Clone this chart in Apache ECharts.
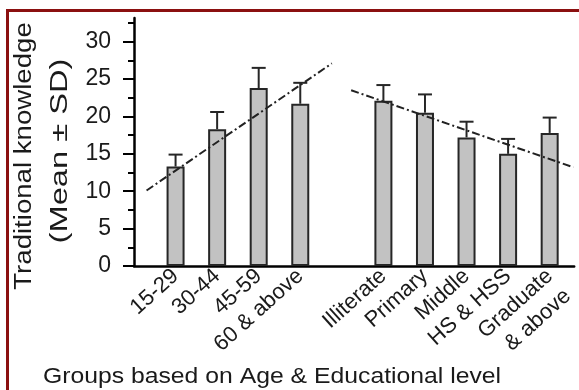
<!DOCTYPE html>
<html>
<head>
<meta charset="utf-8">
<script src="https://cdn.jsdelivr.net/npm/echarts@6/dist/echarts.min.js"></script>
<style>
html,body{margin:0;padding:0;background:#fff;}
#chart{width:579px;height:390px;}
</style>
</head>
<body>
<div id="chart"></div>
<script>
// ---- data ----
var ageGroups = ['15-29', '30-44', '45-59', '60 & above'];
var ageMean   = [13.3, 18.3, 23.8, 21.7];
var ageSD     = [1.6, 2.3, 2.7, 2.8];

var eduGroups = ['Illiterate', 'Primary', 'Middle', 'HS & HSS', 'Graduate\n& above'];
var eduMean   = [22.1, 20.5, 17.2, 15.0, 17.8];
var eduSD     = [2.1, 2.45, 2.1, 2.0, 2.05];

// dash-dot trend lines (x in category units, y in value units)
var ageTrendX = [0.3, 4.72];
var ageTrendY = [10.1, 27.1];
var eduTrendX = [5.18, 10.48];
var eduTrendY = [23.5, 13.2];

var yTicks = [0, 5, 10, 15, 20, 25, 30];

var yTitle1 = 'Traditional knowledge';
var yTitle2 = '(Mean \u00B1 SD)';
var xTitle = 'Groups based on Age & Educational level';

// ---- build ----
var categories = [''].concat(ageGroups, [''], eduGroups);
var means = [null].concat(ageMean, [null], eduMean);
var sds = [null].concat(ageSD, [null], eduSD);
var errData = [];
for (var i = 0; i < categories.length; i++) {
  if (means[i] != null) errData.push([i, means[i], means[i] + sds[i]]);
}

var FONT = 'Liberation Sans, Arial, sans-serif';
var INK = '#1a1a1a';
var pxPerUnit = 224.3 / 30;
var y0 = 266;
var left = 134;
var slot = 41.92;

var chart = echarts.init(document.getElementById('chart'), null, {renderer: 'canvas'});
chart.setOption({
  backgroundColor: '#ffffff',
  animation: false,
  grid: [
    {left: left, right: 579 - (left + 10 * slot), top: y0 - 30 * pxPerUnit, height: 30 * pxPerUnit},
    {left: left, right: 579 - (left + 10 * slot), top: y0 - 32.5 * pxPerUnit, height: 32.5 * pxPerUnit},
    {left: left, right: 579 - (left + 10.5 * slot), top: 18, height: y0 - 18}
  ],
  xAxis: [
    {gridIndex: 0, type: 'value', show: false, min: 0, max: 10},
    {gridIndex: 1, type: 'category', data: categories, boundaryGap: false,
     axisLine: {show: false}, axisTick: {show: false},
     axisLabel: {interval: 0, rotate: 42, margin: 7, fontSize: 22, fontFamily: FONT, color: INK, lineHeight: 27,
       formatter: function (v) { return v.indexOf('\n') >= 0 ? ' \n' + v : v; }}},
    {gridIndex: 2, type: 'value', min: 0, max: 10.5,
     axisLine: {show: true, lineStyle: {color: '#000', width: 2.5}},
     axisTick: {show: false}, axisLabel: {show: false}, splitLine: {show: false}}
  ],
  yAxis: [
    {gridIndex: 0, type: 'value', min: yTicks[0], max: yTicks[yTicks.length - 1], interval: 5,
     axisLine: {show: false},
     axisTick: {show: true, length: 11, lineStyle: {color: '#000', width: 2}},
     axisLabel: {margin: 23, fontSize: 23, fontFamily: FONT, color: INK},
     splitLine: {show: false}},
    {gridIndex: 1, type: 'value', min: 0, max: 32.5, interval: 2.5,
     axisLine: {show: false},
     axisTick: {show: true, length: 6, lineStyle: {color: '#000', width: 2}},
     axisLabel: {show: false}, splitLine: {show: false}},
    {gridIndex: 2, type: 'value', min: 0, max: (y0 - 18) / pxPerUnit,
     axisLine: {show: true, lineStyle: {color: '#000', width: 2.5}},
     axisTick: {show: false}, axisLabel: {show: false}, splitLine: {show: false}}
  ],
  series: [
    {type: 'bar', xAxisIndex: 1, yAxisIndex: 1, data: means, barWidth: 18,
     itemStyle: {color: '#c2c2c2', borderColor: '#262626', borderWidth: 2}, z: 2},
    {type: 'custom', xAxisIndex: 1, yAxisIndex: 1, data: errData,
     encode: {x: 0, y: [1, 2]}, z: 3,
     renderItem: function (params, api) {
       var top = api.coord([api.value(0), api.value(2)]);
       var base = api.coord([api.value(0), api.value(1)]);
       var hw = 7;
       var st = {stroke: '#262626', lineWidth: 2};
       return {type: 'group', children: [
         {type: 'line', shape: {x1: top[0], y1: top[1], x2: base[0], y2: base[1]}, style: st},
         {type: 'line', shape: {x1: top[0] - hw, y1: top[1], x2: top[0] + hw, y2: top[1]}, style: st}
       ]};
     }},
    {type: 'line', xAxisIndex: 2, yAxisIndex: 2, symbol: 'none', z: 5,
     data: ageTrendX.map(function (x, k) { return [x, ageTrendY[k]]; }),
     lineStyle: {color: '#222', width: 2, type: [8, 3, 2, 3]}},
    {type: 'line', xAxisIndex: 2, yAxisIndex: 2, symbol: 'none', z: 5,
     data: eduTrendX.map(function (x, k) { return [x, eduTrendY[k]]; }),
     lineStyle: {color: '#222', width: 2, type: [8, 3, 2, 3]}}
  ],
  graphic: [
    {type: 'rect', shape: {x: 6, y: 9, width: 573, height: 3}, style: {fill: '#8b1010'}, silent: true},
    {type: 'rect', shape: {x: 6, y: 9, width: 3, height: 381}, style: {fill: '#8b1010'}, silent: true},
    {type: 'text', x: 25, y: 156, rotation: Math.PI / 2, scaleX: 1.2,
     style: {text: yTitle1, font: '23px ' + FONT, fill: INK, textAlign: 'center', textVerticalAlign: 'middle'}},
    {type: 'text', x: 61, y: 151, rotation: Math.PI / 2, scaleX: 1.42,
     style: {text: yTitle2, font: '23px ' + FONT, fill: INK, textAlign: 'center', textVerticalAlign: 'middle'}},
    {type: 'text', x: 272, y: 377, scaleX: 1.1,
     style: {text: xTitle, font: '22.5px ' + FONT, fill: INK, textAlign: 'center', textVerticalAlign: 'middle'}}
  ]
});
</script>
</body>
</html>
